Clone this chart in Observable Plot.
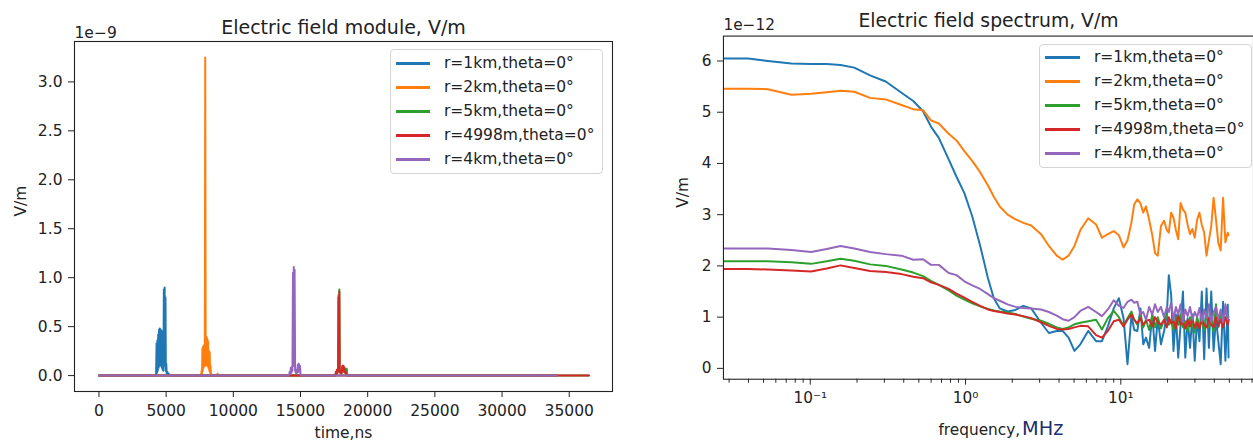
<!DOCTYPE html>
<html><head><meta charset="utf-8">
<script src="https://cdn.jsdelivr.net/npm/d3@7"></script>
<script src="https://cdn.jsdelivr.net/npm/@observablehq/plot@0.6"></script>
<style>
html,body{margin:0;padding:0;background:#fff;}
#wrap{position:relative;width:1253px;height:443px;overflow:hidden;background:#fff;font-family:"DejaVu Sans";}
#left,#right{position:absolute;top:0;}
#left{left:0;} #right{left:630px;}
.legend{position:absolute;border:1px solid #d4d4d4;border-radius:4px;background:rgba(255,255,255,0.8);box-sizing:border-box;}
.entry{position:absolute;left:0;height:20px;line-height:20px;font-size:15.5px;color:#222;white-space:nowrap;}
.sw{position:absolute;top:9px;height:2.6px;}
</style></head>
<body><div id="wrap"><div id="left"></div><div id="right"></div></div>
<script>
// ---------- data ----------
const seriesNames = ["r=1km,theta=0°","r=2km,theta=0°","r=5km,theta=0°","r=4998m,theta=0°","r=4km,theta=0°"];
const seriesColors = ["#1f77b4","#ff7f0e","#2ca02c","#d62728","#9467bd"];

// time series (ns, values in 1e-9 V/m)
const t1km = [0,4250,4290,4320,4350,4380,4410,4440,4470,4500,4530,4560,4590,4620,4650,4680,4710,4740,4770,4800,4830,4860,4890,4920,4950,4980,5010,5040,5080,5150,5250,5350,34085];
const e1km = [0,0,0.33,0.03,0.36,0.05,0.42,0.08,0.47,0.10,0.48,0.12,0.47,0.10,0.46,0.08,0.45,0.06,0.30,0.05,0.88,0.10,0.90,0.15,0.80,0.05,0.12,0.02,0.04,0.02,0.01,0,0];
const t2km = [0,7600,7640,7670,7700,7730,7760,7790,7820,7850,7880,7910,7940,7970,8000,8030,8060,8090,8120,8150,8180,8210,8240,8270,8300,8340,8400,8800,8830,8860,34085];
const e2km = [0,0,0.05,0.02,0.28,0.05,0.30,0.08,0.31,0.10,0.30,3.25,0.40,0.10,0.40,0.12,0.38,0.10,0.35,0.08,0.25,0.05,0.24,0.03,0.10,0.02,0,0,0.02,0,0];
const t5km = [0,17600,17640,17680,17720,17760,17800,17830,17860,17890,17920,17960,18000,18040,18080,18120,18160,18200,18240,18280,18320,18360,18400,18440,18470,18500,36466];
const e5km = [0,0,0.04,0.02,0.06,0.03,0.07,0.82,0.10,0.88,0.05,0.03,0.05,0.02,0.04,0.09,0.05,0.09,0.04,0.07,0.03,0.05,0.03,0.07,0.02,0,0];
const t4998m = [0,17600,17640,17680,17720,17760,17800,17830,17860,17890,17920,17960,18000,18040,18080,18120,18160,18200,18240,18280,18320,18360,18400,18450,36466];
const e4998m = [0,0,0.04,0.02,0.06,0.03,0.07,0.80,0.10,0.86,0.05,0.03,0.05,0.02,0.04,0.10,0.05,0.10,0.04,0.08,0.03,0.04,0.01,0,0];
const t4km = [0,14150,14200,14240,14280,14320,14360,14400,14440,14470,14500,14530,14560,14600,14640,14680,14720,14760,14800,14840,14880,14920,14960,15000,15050,34085];
const e4km = [0,0,0.04,0.02,0.08,0.03,0.09,0.05,1.05,0.10,1.11,0.20,1.08,0.05,0.04,0.02,0.06,0.03,0.11,0.04,0.12,0.05,0.10,0.02,0,0];

// spectrum (MHz, values in 1e-12 V/m)
const freq = [0.0276,0.0398,0.0533,0.0756,0.1012,0.1277,0.1566,0.1921,0.2425,0.3062,0.3866,0.4605,0.5328,0.5986,0.6727,0.7784,0.8746,0.9827,1.104,1.241,1.394,1.521,1.661,1.866,2.097,2.356,2.647,3.063,3.441,3.867,4.221,4.607,5.027,5.486,6.164,6.926,7.558,8.252,9.003,9.712,10.41,11.04,11.71,12.19,
 12.78,13.38,13.94,14.52,15.22,15.94,16.61,17.30,18.13,18.99,19.78,20.37,21.09,21.84,22.62,23.42,24.26,25.12,26.01,26.94,27.90,28.89,29.92,30.98,32.09,33.23,34.42,35.64,36.91,38.22,39.58,41.00,42.45,43.96,45.53,47.15,48.83,49.40];
const s1km = [6.05,6.05,6.00,5.95,5.94,5.94,5.92,5.87,5.72,5.60,5.38,5.22,5.02,4.72,4.50,4.08,3.74,3.42,2.97,2.40,1.76,1.37,1.17,1.11,1.14,1.22,1.17,0.89,0.69,0.73,0.73,0.60,0.34,0.47,0.73,0.53,0.53,0.82,1.17,1.37,0.98,0.08,1.04,0.75,
 0.73,1.17,0.47,0.60,0.40,1.05,0.34,0.98,0.47,0.73,1.05,1.82,1.43,0.34,1.05,0.21,0.85,1.50,0.21,0.98,0.40,1.05,0.15,0.98,0.53,1.50,0.18,1.56,0.40,1.50,0.34,0.98,0.53,0.08,1.30,0.15,1.24,0.21];
const s2km = [5.46,5.46,5.45,5.34,5.36,5.39,5.42,5.40,5.28,5.25,5.14,5.06,5.04,4.84,4.78,4.58,4.45,4.24,4.05,3.83,3.57,3.35,3.16,3.00,2.91,2.84,2.79,2.62,2.39,2.20,2.12,2.20,2.39,2.70,2.93,2.81,2.55,2.62,2.68,2.60,2.36,2.50,2.85,3.20,
 3.30,3.22,3.04,3.16,2.90,2.60,2.25,2.20,2.78,2.88,2.70,2.65,3.04,2.94,2.70,2.52,3.23,3.10,3.04,2.80,2.62,2.72,2.55,2.90,3.04,2.80,2.65,2.20,2.50,2.78,3.33,2.91,2.45,2.30,3.33,2.46,2.65,2.60];
const s5km = [2.09,2.09,2.09,2.07,2.04,2.09,2.14,2.10,2.03,2.00,1.93,1.87,1.80,1.71,1.63,1.52,1.42,1.34,1.27,1.21,1.16,1.13,1.11,1.09,1.06,1.01,0.97,0.93,0.87,0.80,0.77,0.80,0.86,0.89,0.92,0.95,0.76,0.98,1.12,1.00,0.83,0.98,1.11,0.95,
 0.85,1.05,0.80,0.95,0.75,1.05,0.80,1.00,0.78,0.95,1.05,0.85,0.95,0.75,1.00,0.85,1.05,0.80,0.92,0.72,1.00,0.85,0.70,1.00,0.82,0.95,0.75,1.10,0.80,1.00,0.72,1.25,0.80,1.05,0.90,1.20,0.85,0.95];
const s4998m = [1.94,1.94,1.93,1.91,1.89,1.95,2.01,1.96,1.90,1.88,1.84,1.79,1.76,1.68,1.63,1.55,1.46,1.38,1.30,1.22,1.15,1.12,1.10,1.07,1.05,1.02,0.98,0.90,0.83,0.77,0.76,0.77,0.80,0.83,0.82,0.65,0.60,0.73,0.92,0.95,0.82,0.95,1.05,0.95,
 0.88,0.98,0.85,0.92,0.95,0.82,1.00,0.90,0.85,0.95,0.80,1.00,0.88,0.92,0.78,1.05,0.85,0.90,0.78,0.95,0.82,0.98,0.80,0.90,0.78,0.95,0.85,0.80,0.98,0.85,0.80,1.00,0.82,0.95,0.80,1.00,0.85,0.95];
const s4km = [2.34,2.34,2.34,2.31,2.27,2.33,2.39,2.34,2.27,2.23,2.20,2.12,2.13,2.02,2.02,1.86,1.82,1.70,1.62,1.55,1.45,1.37,1.32,1.25,1.20,1.18,1.17,1.15,1.10,1.03,0.96,0.93,1.00,1.12,1.20,1.10,1.02,1.15,1.33,1.22,1.18,1.30,1.34,1.28,
 1.30,1.05,1.10,0.95,1.20,1.05,1.25,1.10,1.20,1.00,1.20,1.10,1.28,0.95,1.20,1.05,1.25,0.90,1.15,1.02,1.20,0.95,1.10,1.00,1.18,0.92,1.15,0.98,1.25,0.90,1.10,1.20,0.95,1.15,0.90,1.25,0.95,1.00];

// ticks and labels
const timeTicks = [0,5000,10000,15000,20000,25000,30000,35000];
const moduleTicks = [0,0.5,1,1.5,2,2.5,3];
const spectrumTicks = [0,1,2,3,4,5,6];
const freqMajor = [0.1,1,10];
const freqMajorLabels = ["10⁻¹","10⁰","10¹"];
const freqMinor = [0.03,0.04,0.05,0.06,0.07,0.08,0.09,0.2,0.3,0.4,0.5,0.6,0.7,0.8,0.9,2,3,4,5,6,7,8,9,20,30,40,50,60,70];
const leftTitle = "Electric field module, V/m";
const rightTitle = "Electric field spectrum, V/m";
const leftOffset = "1e\u22129";
const rightOffset = "1e\u221212";
const yLabel = "V/m";
const leftXLabel = "time,ns";
const rightXLabelA = "frequency,";
const rightXLabelB = "MHz";

// ---------- build ----------
const rows = (xs, ys) => xs.map((x, i) => ({x, y: ys[i]}));
const timeSeries = [[t1km,e1km],[t2km,e2km],[t5km,e5km],[t4998m,e4998m],[t4km,e4km]];
const specSeries = [s1km,s2km,s5km,s4998m,s4km];
const ink = "#222";
const fontStyle = {fontFamily: "DejaVu Sans", fontSize: "15.5px", color: ink, background: "transparent", overflow: "visible"};

const left = Plot.plot({
  width: 625, height: 443,
  marginLeft: 74, marginRight: 13, marginTop: 41, marginBottom: 52,
  x: {type: "linear", domain: [-1820, 38220]},
  y: {domain: [-0.1625, 3.4125]},
  style: fontStyle,
  marks: [
    ...timeSeries.map(([t, e], i) => Plot.line(rows(t, e), {x: "x", y: "y", stroke: seriesColors[i], strokeWidth: 2, strokeLinejoin: "round"})),
    Plot.frame({stroke: ink, strokeWidth: 1.1}),
    Plot.axisX({ticks: timeTicks, tickSize: 6, tickPadding: 7, tickFormat: d => String(d), label: null, stroke: ink, fill: ink}),
    Plot.axisY({ticks: moduleTicks, tickSize: 6, tickPadding: 6, tickFormat: d => d.toFixed(1), label: null, stroke: ink, fill: ink}),
    Plot.text([leftTitle], {frameAnchor: "top", dy: -8, lineAnchor: "bottom", fontSize: 19, fill: ink}),
    Plot.text([leftOffset], {frameAnchor: "top-left", dy: -4, lineAnchor: "bottom", textAnchor: "start", fontSize: 15.5, fill: ink}),
    Plot.text([yLabel], {frameAnchor: "left", dx: -53, rotate: -90, fontSize: 15.5, fill: ink}),
    Plot.text([leftXLabel], {frameAnchor: "bottom", dy: 46, lineAnchor: "bottom", fontSize: 15.5, fill: ink})
  ]
});
document.getElementById("left").appendChild(left);

const right = Plot.plot({
  width: 630, height: 443,
  marginLeft: 94, marginRight: 0, marginTop: 36, marginBottom: 60,
  x: {type: "log", domain: [0.0276, 71.5]},
  y: {domain: [-0.212, 6.486]},
  style: fontStyle,
  marks: [
    ...specSeries.map((s, i) => Plot.line(rows(freq, s), {x: "x", y: "y", stroke: seriesColors[i], strokeWidth: 2, strokeLinejoin: "round", clip: true})),
    Plot.frame({stroke: ink, strokeWidth: 1.1}),
    Plot.axisX({ticks: freqMinor, tickSize: 4, tickFormat: () => "", label: null, stroke: ink}),
    Plot.axisX({ticks: freqMajor, tickSize: 6, tickPadding: 7, tickFormat: d => freqMajorLabels[freqMajor.indexOf(d)], label: null, stroke: ink, fill: ink}),
    Plot.axisY({ticks: spectrumTicks, tickSize: 6, tickPadding: 6, tickFormat: d => String(d), label: null, stroke: ink, fill: ink}),
    Plot.text([rightTitle], {frameAnchor: "top", dy: -9, lineAnchor: "bottom", fontSize: 19, fill: ink}),
    Plot.text([rightOffset], {frameAnchor: "top-left", dy: -6, lineAnchor: "bottom", textAnchor: "start", fontSize: 15.5, fill: ink}),
    Plot.text([yLabel], {frameAnchor: "left", dx: -41, rotate: -90, fontSize: 15.5, fill: ink}),
    Plot.text([rightXLabelA], {frameAnchor: "bottom", dx: 32, dy: 56, lineAnchor: "bottom", textAnchor: "end", fontSize: 15.5, fill: ink}),
    Plot.text([rightXLabelB], {frameAnchor: "bottom", dx: 34, dy: 56, lineAnchor: "bottom", textAnchor: "start", fontSize: 19.5, fill: "#1c2f6e"})
  ]
});
document.getElementById("right").appendChild(right);

// legends
function legend(left, top, w, h, swLeft, swW, textLeft, firstY) {
  const box = document.createElement("div");
  box.className = "legend";
  Object.assign(box.style, {left: left + "px", top: top + "px", width: w + "px", height: h + "px"});
  seriesNames.forEach((name, i) => {
    const e = document.createElement("div");
    e.className = "entry";
    e.style.top = (firstY + 24 * i - 10) + "px";
    e.style.width = w + "px";
    const sw = document.createElement("div");
    sw.className = "sw";
    Object.assign(sw.style, {left: swLeft + "px", width: swW + "px", background: seriesColors[i]});
    const tx = document.createElement("span");
    tx.style.position = "absolute";
    tx.style.left = textLeft + "px";
    tx.textContent = name;
    e.appendChild(sw); e.appendChild(tx);
    box.appendChild(e);
  });
  document.getElementById("wrap").appendChild(box);
}
legend(390, 49, 213, 125, 5, 34, 53, 13);
legend(1039, 44, 213, 124, 5, 35, 54, 12);
</script></body></html>
